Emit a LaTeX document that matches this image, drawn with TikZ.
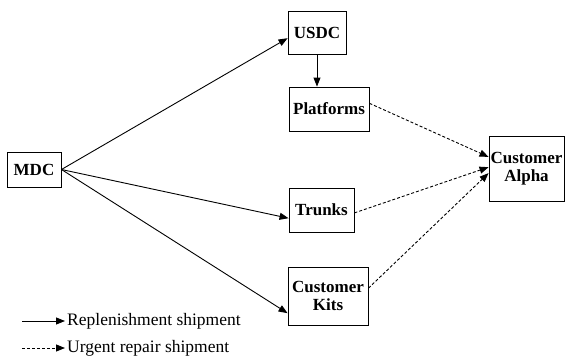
\documentclass[tikz,border=0pt]{standalone}
\usepackage{fontspec}
\setmainfont{Liberation Serif}
\usetikzlibrary{arrows.meta}

\tikzset{
    box/.style={draw, line width=0.9pt, inner sep=1pt, align=center,
        font=\fontsize{17}{17.5}\selectfont\bfseries},
    ship/.style={line width=0.9pt, -{Triangle[length=9pt,width=7pt]}},
    urgent/.style={ship, dash pattern=on 3pt off 2pt},
    legtext/.style={anchor=west, inner sep=2pt, font=\fontsize{17.5}{19}\selectfont}
}

\begin{document}
\begin{tikzpicture}[x=1pt, y=-1pt]
    \useasboundingbox (0,0) rectangle (565,356);

    % depots and customers
    \node[box, minimum width=54pt, minimum height=35pt] (mdc) at (34,169.5) {MDC};
    \node[box, minimum width=58pt, minimum height=43pt] (usdc) at (317,32.5) {USDC};
    \node[box, minimum width=80pt, minimum height=44pt] (platforms) at (329,109) {Platforms};
    \node[box, minimum width=65pt, minimum height=44pt] (trunks) at (321.5,210) {Trunks};
    \node[box, minimum width=80pt, minimum height=58pt] (kits) at (328,296) {Customer\\Kits};
    \node[box, minimum width=75pt, minimum height=65pt] (alpha) at (526.5,168.5) {Customer\\Alpha};

    % replenishment
    \draw[ship] (mdc.east) -- (usdc.191);
    \draw[ship] (mdc.east) -- (trunks.194);
    \draw[ship] (mdc.east) -- (kits.203);
    \draw[ship] (usdc.south) -- (usdc.south |- platforms.north);

    % urgent repair
    \draw[urgent] (platforms.8) -- (alpha.163);
    \draw[urgent] (trunks.-5) -- (alpha.178);
    \draw[urgent] (kits.11) -- (alpha.187);

    % legend
    \node[legtext] (lrep) at (65,321) {Replenishment shipment};
    \node[legtext] (lurg) at (65,348) {Urgent repair shipment};
    \coordinate (srep) at (22,321);
    \coordinate (surg) at (22,348);
    \draw[ship] (srep) -- (lrep.west);
    \draw[urgent] (surg) -- (lurg.west);
\end{tikzpicture}
\end{document}
